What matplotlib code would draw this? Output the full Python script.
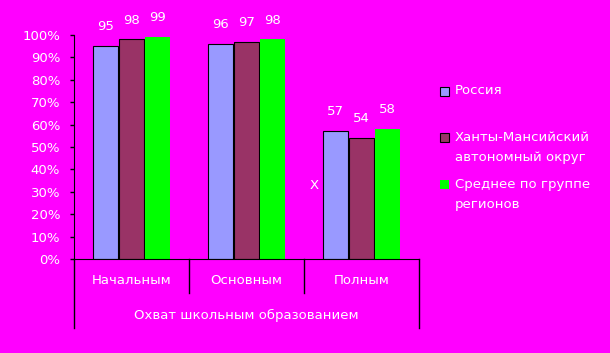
import matplotlib.pyplot as plt
from matplotlib.patches import Rectangle
import numpy as np

categories = ['Начальным', 'Основным', 'Полным']
series_names = ['Россия', 'Ханты-Мансийский\nавтономный округ', 'Среднее по группе\nрегионов']
russia = [95, 96, 57]
hmao = [98, 97, 54]
group_avg = [99, 98, 58]
yticks = [0, 10, 20, 30, 40, 50, 60, 70, 80, 90, 100]
axis_title = 'Охват школьным образованием'

bg = '#FF00FF'
colors = ['#9999FF', '#993366', '#00FF00']
edges = ['black', 'black', 'none']
fs = 9.5

plt.rcParams['font.family'] = 'DejaVu Sans'
fig = plt.figure(figsize=(6.1, 3.53), dpi=100, facecolor=bg)
ax = fig.add_axes([74 / 610, 1 - 259 / 353, 345 / 610, 224 / 353])
ax.set_facecolor(bg)

x = np.arange(len(categories))
w = 0.222
offsets = [-0.225, 0, 0.225]
for vals, off, c, ec in zip([russia, hmao, group_avg], offsets, colors, edges):
    bars = ax.bar(x + off, vals, w, color=c, edgecolor=ec, linewidth=0.8, zorder=2)
    for b, v in zip(bars, vals):
        ax.annotate(str(v), (b.get_x() + b.get_width() / 2, v), xytext=(0, 14),
                    textcoords='offset points', ha='center', va='center',
                    color='white', fontsize=fs)

ax.text(1.59, 33, 'X', color='white', fontsize=fs, ha='center', va='center')

ax.set_xlim(-0.5, 2.5)
ax.set_ylim(0, 100)
ax.set_yticks(yticks)
ax.set_yticklabels([f'{t}%' for t in yticks], color='white', fontsize=fs)
ax.tick_params(axis='y', direction='out', length=3, width=1, color='black', pad=7)
ax.set_xticks([])
for s in ['top', 'right']:
    ax.spines[s].set_visible(False)
ax.spines['left'].set_color('black')
ax.spines['bottom'].set_color('black')

# multi-level category axis
tr = ax.get_xaxis_transform()
for xs in [0.5, 1.5]:
    ax.plot([xs, xs], [0, -0.152], color='black', lw=1, transform=tr, clip_on=False)
for xs in [-0.5, 2.5]:
    ax.plot([xs, xs], [0, -0.308], color='black', lw=1, transform=tr, clip_on=False)
for xi, cat in zip(x, categories):
    ax.text(xi, -0.098, cat, transform=tr, ha='center', va='center', color='white', fontsize=fs)
ax.text(1.0, -0.25, axis_title, transform=tr, ha='center', va='center', color='white', fontsize=fs)

# legend
leg_y = [91, 137.5, 184.5]
for name, c, ec, yy in zip(series_names, colors, edges, leg_y):
    fig.patches.append(Rectangle((440 / 610, 1 - (yy + 4.5) / 353), 9 / 610, 9 / 353,
                                 transform=fig.transFigure, facecolor=c,
                                 edgecolor='black' if ec != 'none' else 'none', lw=0.8))
    for i, line in enumerate(name.split('\n')):
        fig.text(455 / 610, 1 - (yy + i * 20) / 353, line, ha='left', va='center',
                 color='white', fontsize=fs)

fig.savefig('out.png', dpi=100, facecolor=bg)
